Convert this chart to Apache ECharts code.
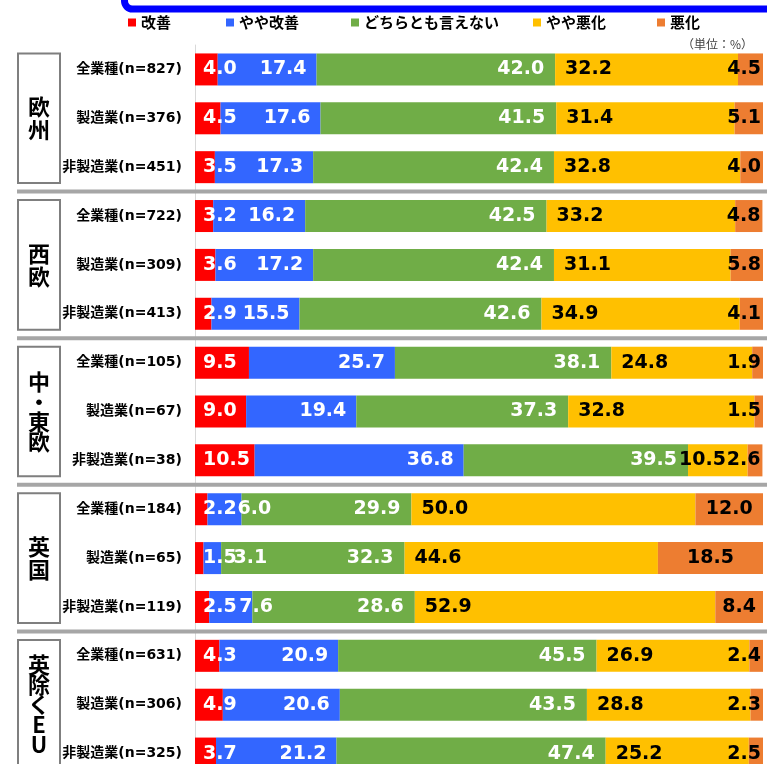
<!DOCTYPE html>
<html>
<head>
<meta charset="utf-8">
<script src="https://cdn.jsdelivr.net/npm/echarts@6/dist/echarts.min.js"></script>
<style>
html,body{margin:0;padding:0;background:#fff;}
#main{width:767px;height:764px;}
</style>
</head>
<body>
<div id="main"></div>
<script>
// 凡例・系列
var seriesNames = ['改善', 'やや改善', 'どちらとも言えない', 'やや悪化', '悪化'];
var colors = ['#FF0000', '#3366FF', '#70AD47', '#FFC000', '#ED7D31'];

// 地域グループ(縦書き)
var groups = ['欧\n州', '西\n欧', '中\n・\n東\n欧', '英\n国', '英\n除\nく\nE\nU'];

// カテゴリ
var categories = [
	'全業種(n=827)', '製造業(n=376)', '非製造業(n=451)',
	'全業種(n=722)', '製造業(n=309)', '非製造業(n=413)',
	'全業種(n=105)', '製造業(n=67)', '非製造業(n=38)',
	'全業種(n=184)', '製造業(n=65)', '非製造業(n=119)',
	'全業種(n=631)', '製造業(n=306)', '非製造業(n=325)'
];

// 値(%)
var kaizen      = [4.0, 4.5, 3.5, 3.2, 3.6, 2.9, 9.5, 9.0, 10.5, 2.2, 1.5, 2.5, 4.3, 4.9, 3.7];
var yayaKaizen  = [17.4, 17.6, 17.3, 16.2, 17.2, 15.5, 25.7, 19.4, 36.8, 6.0, 3.1, 7.6, 20.9, 20.6, 21.2];
var dochiramo   = [42.0, 41.5, 42.4, 42.5, 42.4, 42.6, 38.1, 37.3, 39.5, 29.9, 32.3, 28.6, 45.5, 43.5, 47.4];
var yayaAkka    = [32.2, 31.4, 32.8, 33.2, 31.1, 34.9, 24.8, 32.8, 10.5, 50.0, 44.6, 52.9, 26.9, 28.8, 25.2];
var akka        = [4.5, 5.1, 4.0, 4.8, 5.8, 4.1, 1.9, 1.5, 2.6, 12.0, 18.5, 8.4, 2.4, 2.3, 2.5];

var allValues = [kaizen, yayaKaizen, dochiramo, yayaAkka, akka];

var labelFont = "'DejaVu Sans', Verdana, sans-serif";
var cjkFont = "'Noto Sans CJK JP', sans-serif";

// 系列ごとのラベル位置
function labelFor(s, v){
	var lb = {
		show: true,
		fontSize: 19,
		fontWeight: 'bold',
		fontFamily: labelFont,
		textBorderWidth: 0,
		color: s < 3 ? '#fff' : '#000',
		formatter: function(p){ return p.value.toFixed(1); }
	};
	if(s == 0){ lb.position = 'insideLeft'; lb.distance = 8; }
	if(s == 1){
		if(v < 10){ lb.position = 'insideLeft'; lb.distance = 30; }
		else { lb.position = 'insideRight'; lb.distance = 10; }
	}
	if(s == 2){ lb.position = 'insideRight'; lb.distance = 11; }
	if(s == 3){
		if(v < 15){ lb.position = 'insideLeft'; lb.distance = -9; }
		else { lb.position = 'insideLeft'; lb.distance = 10; }
	}
	if(s == 4){
		if(v < 8){ lb.position = 'insideRight'; lb.distance = 2; }
		else { lb.position = 'inside'; }
	}
	return lb;
}

var series = [];
for(var s = 0; s < seriesNames.length; s++){
	series.push({
		name: seriesNames[s],
		type: 'bar',
		stack: 'total',
		barWidth: 32,
		itemStyle: {color: colors[s]},
		emphasis: {disabled: true},
		data: allValues[s].map(function(v){
			return {value: v, label: labelFor(s, v)};
		})
	});
}

// 凡例の位置
var legendLeft = [128, 226, 351, 533, 657];
var legends = seriesNames.map(function(n, i){
	return {
		data: [n],
		left: legendLeft[i],
		top: 15,
		padding: 0,
		icon: 'rect',
		itemWidth: 8,
		itemHeight: 8,
		selectedMode: false,
		textStyle: {fontSize: 15, fontWeight: 'bold', fontFamily: cjkFont, color: '#000'}
	};
});

var option = {
	backgroundColor: '#fff',
	animation: false,
	legend: legends,
	grid: {left: 195, right: 4, top: 45, height: 733, outerBoundsMode: 'none', containLabel: false},
	xAxis: {
		type: 'value', min: 0, max: 100, show: false
	},
	yAxis: {
		type: 'category',
		inverse: true,
		data: categories,
		axisTick: {show: false},
		axisLine: {show: true, lineStyle: {color: '#D9D9D9', width: 1}},
		axisLabel: {
			margin: 13,
			fontSize: 14,
			fontWeight: 'bold',
			color: '#000',
			fontFamily: "'DejaVu Sans', 'Noto Sans CJK JP', sans-serif"
		}
	},
	series: series
};

var chart = echarts.init(document.getElementById('main'));
chart.setOption(option);

// グループ枠・区切り線
function cy(i){ return chart.convertToPixel({yAxisIndex: 0}, i); }
var step = cy(1) - cy(0);
var bounds = [];
for(var k = 0; k <= groups.length; k++){
	bounds.push(cy(3 * k) - step / 2);
}

var graphics = [];
// 上の青い枠
graphics.push({
	type: 'rect',
	shape: {x: 124.5, y: -41, width: 700, height: 50, r: 8},
	style: {fill: '#fff', stroke: '#0000FF', lineWidth: 7},
	z: 10
});
// 単位
graphics.push({
	type: 'text',
	x: 753, y: 44,
	style: {text: '（単位：%）', font: '12px ' + cjkFont, fill: '#404040', align: 'right', verticalAlign: 'middle'},
	z: 10
});
for(var k = 1; k < groups.length; k++){
	graphics.push({
		type: 'line',
		shape: {x1: 17, y1: bounds[k], x2: 767, y2: bounds[k]},
		style: {stroke: '#A6A6A6', lineWidth: 4},
		z: 10
	});
}
for(var k = 0; k < groups.length; k++){
	var boxTop = bounds[k] + 8.5;
	var boxH = bounds[k + 1] - bounds[k] - 17;
	var nLines = groups[k].split('\n').length;
	graphics.push({
		type: 'rect',
		shape: {x: 18, y: boxTop, width: 42, height: boxH},
		style: {fill: '#fff', stroke: '#7F7F7F', lineWidth: 2},
		z: 10
	});
	graphics.push({
		type: 'text',
		x: 39, y: boxTop + boxH / 2,
		style: {
			text: groups[k],
			font: 'bold 22px ' + cjkFont,
			lineHeight: nLines > 2 ? 20 : 23,
			fill: '#000',
			align: 'center',
			verticalAlign: 'middle'
		},
		z: 11
	});
}
chart.setOption({graphic: graphics});
</script>
</body>
</html>
